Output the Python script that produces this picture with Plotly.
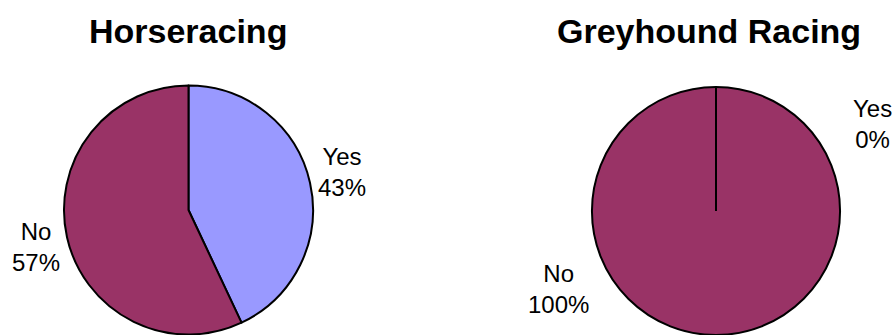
import math
import plotly.graph_objects as go

categories = ["Yes", "No"]
horse_values = [43, 57]
grey_values = [0, 100]
titles = ["Horseracing", "Greyhound Racing"]
colors = ["#9999FF", "#993366"]

W, H = 894, 335
FONT = "Arial, Liberation Sans, sans-serif"

fig = go.Figure()

def px_domain(cx, cy, r):
    return dict(x=[(cx - r) / W, (cx + r) / W],
                y=[max(0, (H - cy - r) / H), min(1, (H - cy + r) / H)])

pies = [
    (horse_values, px_domain(188.5, 210, 124.5)),
    (grey_values, px_domain(716, 211, 124)),
]
shapes = []
for vals, dom in pies:
    fig.add_trace(go.Pie(
        labels=categories, values=vals, sort=False, direction="clockwise",
        rotation=0, marker=dict(colors=colors, line=dict(color="black", width=2)),
        textinfo="none", hoverinfo="skip", domain=dom, showlegend=False,
    ))
    # plotly skips zero-value slices; draw their border edge explicitly
    x0, x1 = dom["x"][0] * W, dom["x"][1] * W
    y0, y1 = dom["y"][0] * H, dom["y"][1] * H
    cxp, cyp = (x0 + x1) / 2, (y0 + y1) / 2
    rp = min(x1 - x0, y1 - y0) / 2
    total = sum(vals)
    cum = 0
    for v in vals:
        if v == 0:
            ang = math.radians(360 * cum / total)
            ex, ey = cxp + rp * math.sin(ang), cyp + rp * math.cos(ang)
            shapes.append(dict(type="line", xref="paper", yref="paper",
                               x0=cxp / W, y0=cyp / H, x1=ex / W, y1=ey / H,
                               line=dict(color="black", width=2)))
        cum += v

def pct(vals, i):
    return round(100 * vals[i] / sum(vals))

annos = []
for t, cx in zip(titles, [188, 709]):
    annos.append(dict(text=f"<b>{t}</b>", x=cx / W, y=(H - 31) / H, xref="paper", yref="paper",
                      showarrow=False, font=dict(family=FONT, size=34, color="black"),
                      xanchor="center", yanchor="middle"))
label_pos = [
    [(342, 172), (36, 247)],
    [(872, 124), (558, 289)],
]
for vals, positions in zip([horse_values, grey_values], label_pos):
    for i, (lx, ly) in enumerate(positions):
        annos.append(dict(text=f"{categories[i]}<br>{pct(vals, i)}%", x=lx / W, y=(H - ly) / H,
                          xref="paper", yref="paper", showarrow=False,
                          font=dict(family=FONT, size=24, color="black"),
                          xanchor="center", yanchor="middle", align="center"))

fig.update_layout(width=W, height=H, margin=dict(l=0, r=0, t=0, b=0),
                  paper_bgcolor="white", plot_bgcolor="white",
                  annotations=annos, shapes=shapes)

fig.write_html("out.html")
